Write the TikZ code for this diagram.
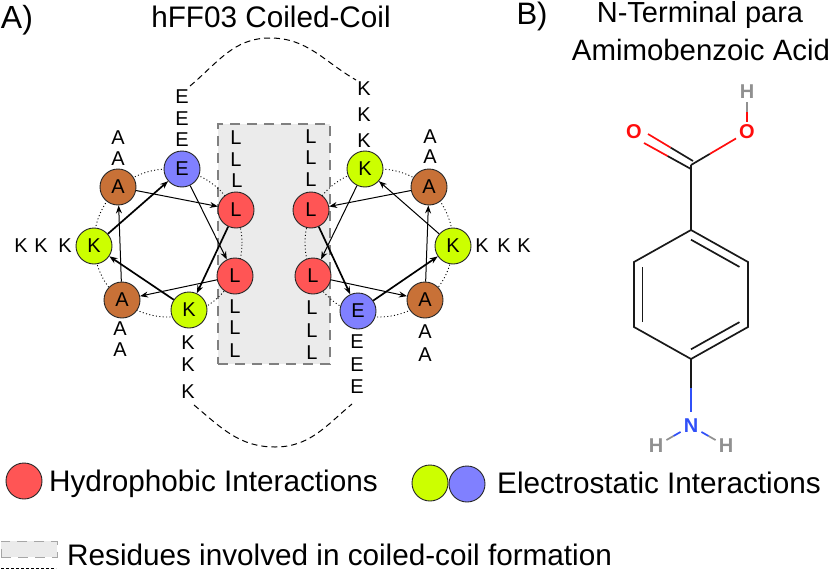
\documentclass[tikz,border=0pt]{standalone}
\usepackage{fontspec}
\setmainfont{Liberation Sans}
\usetikzlibrary{
    arrows.meta,% for the small heads
    calc%
}
\definecolor{hydro}{HTML}{FF5555}
\definecolor{posres}{HTML}{CCFF00}
\definecolor{negres}{HTML}{8080FF}
\definecolor{alares}{HTML}{C87137}
\definecolor{oxy}{HTML}{FF0D0D}
\definecolor{nitro}{HTML}{3050F8}
\definecolor{hydrogen}{HTML}{909090}
\tikzset{
    residue/.style={circle,draw=black!85,line width=0.9pt,minimum size=36pt,inner sep=0pt,
        font=\fontsize{20}{20}\selectfont},
    letter/.style={inner sep=0pt,font=\fontsize{20}{20}\selectfont},
    bigtext/.style={inner sep=0pt,font=\fontsize{29.7}{29.7}\selectfont},
    atom/.style={inner sep=3pt,font=\fontsize{20}{20}\selectfont\bfseries},
    hop/.style={-{Stealth[length=8pt,width=6pt]},line width=1pt,black},
    hopthick/.style={hop,line width=1.7pt},
    wheel/.style={dotted,line width=0.9pt,dash pattern=on 1pt off 2.4pt},
    link/.style={dash pattern=on 6pt off 4pt,line width=1pt},
    corebox/.style={draw=black!50,fill=black!8,line width=1.8pt,dash pattern=on 10pt off 7pt,inner sep=0pt},
    bond/.style={line width=1.7pt,black!90}
}
\begin{document}
\begin{tikzpicture}[x=1pt,y=-1pt]
    \useasboundingbox (0,0) rectangle (830,570);

    \node[corebox,minimum width=112pt,minimum height=240pt] (core) at (274,244) {};

    \node[bigtext,font=\fontsize{32}{32}\selectfont] (tagA) at (17,20) {A)};
    \node[bigtext,font=\fontsize{31}{31}\selectfont] (tagB) at (532,16) {B)};
    \node[bigtext] (title) at (271,17) {hFF03 Coiled-Coil};
    \node[bigtext,font=\fontsize{29}{29}\selectfont] (pabaone) at (700,15) {N-Terminal para};
    \node[bigtext,font=\fontsize{29.4}{29.4}\selectfont] (pabatwo) at (701,50) {Amimobenzoic Acid};

    %%% the two dotted wheels
    \node[circle,draw,wheel,minimum size=148pt,inner sep=0pt] (wheelL) at (168,243) {};
    \node[circle,draw,wheel,minimum size=148pt,inner sep=0pt] (wheelR) at (379,243) {};

    %%% left helix
    \node[residue,fill=alares] (lAa) at (118,187) {A};
    \node[residue,fill=negres] (lE) at (182,169) {E};
    \node[residue,fill=hydro] (lLa) at (236,210) {L};
    \node[residue,fill=hydro] (lLb) at (235,276) {L};
    \node[residue,fill=posres] (lKb) at (189,310) {K};
    \node[residue,fill=alares] (lAb) at (122,300) {A};
    \node[residue,fill=posres] (lKa) at (94,246) {K};

    %%% right helix
    \node[residue,fill=posres] (rKa) at (365,169) {K};
    \node[residue,fill=alares] (rAa) at (429,187) {A};
    \node[residue,fill=posres] (rKb) at (453,246) {K};
    \node[residue,fill=alares] (rAb) at (425,300) {A};
    \node[residue,fill=negres] (rE) at (358,311) {E};
    \node[residue,fill=hydro] (rLb) at (313,276) {L};
    \node[residue,fill=hydro] (rLa) at (311,210) {L};

    %%% heptad order, left
    \draw[hopthick] (lKa) -- (lE);
    \draw[hop] (lE) -- (lLb);
    \draw[hop] (lLb) -- (lAb);
    \draw[hop] (lAb) -- (lAa);
    \draw[hop] (lAa) -- (lLa);
    \draw[hopthick] (lLa) -- (lKb);
    \draw[hopthick] (lKb) -- (lKa);

    %%% heptad order, right
    \draw[hopthick] (rE) -- (rKb);
    \draw[hop] (rKb) -- (rKa);
    \draw[hop] (rKa) -- (rLb);
    \draw[hop] (rLb) -- (rAb);
    \draw[hop] (rAb) -- (rAa);
    \draw[hop] (rAa) -- (rLa);
    \draw[hopthick] (rLa) -- (rE);

    %%% repeated letters round the wheels
    \foreach \name/\x/\y/\txt in {
        ea/182/97/E, eb/182/119/E, ec/182/140/E,
        aa/118/138/A, ab/118/159/A,
        la/236/138/L, lb/236/160/L, lc/237/181/L,
        ld/235/307/L, le/235/328/L, lf/235/351/L,
        ka/21/246/K, kb/41/246/K, kc/65/246/K,
        kd/188/343/K, ke/188/365/K, kf/188/392/K,
        ac/120/329/A, ad/120/350/A,
        kg/364/89/K, kh/364/115/K, ki/364/141/K,
        ae/430/137/A, af/430/157/A,
        lg/311/137/L, lh/311/158/L, li/311/180/L,
        lj/312/308/L, lk/312/331/L, ll/312/353/L,
        kj/482/246/K, kk/504/246/K, kl/524/246/K,
        ee/357/342/E, ef/357/365/E, eg/357/387/E,
        ag/425/332/A, ah/425/355/A}
        \node[letter] (\name) at (\x,\y) {\txt};

    %%% dashed links between the helices
    \coordinate (topL) at (190,86);
    \coordinate (topM) at (270,38);
    \coordinate (topR) at (356,80);
    \coordinate (lowL) at (194,405);
    \coordinate (lowM) at (275,447);
    \coordinate (lowR) at (352,404);
    \draw[link] (topL) to [out=40,in=180] (topM) to [out=0,in=150] (topR);
    \draw[link] (lowL) to [out=-40,in=180] (lowM) to [out=0,in=-140] (lowR);

    %%% legend
    \node[residue,fill=hydro] (keyH) at (24,481) {};
    \node[bigtext,anchor=west] (keyHtext) at (49,484) {Hydrophobic Interactions};
    \node[residue,fill=posres] (keyK) at (430,483) {};
    \node[residue,fill=negres] (keyE) at (467,484) {};
    \node[bigtext,anchor=west] (keyEtext) at (497,483) {Electrostatic Interactions};
    \node[corebox,minimum width=56pt,minimum height=16pt,line width=1pt,draw=black!35] (keyBox) at (29,549) {};
    \node[bigtext,anchor=west] (keyBoxtext) at (67,554.5) {Residues involved in coiled-coil formation};
    \coordinate (keyDashL) at (1,568);
    \coordinate (keyDashR) at (56,568);
    \draw[line width=1pt,dash pattern=on 3pt off 2pt] (keyDashL) -- (keyDashR);

    %%% molecule
    \coordinate (ringa) at (691,230);
    \coordinate (ringb) at (748,262);
    \coordinate (ringc) at (748,327);
    \coordinate (ringd) at (691,359);
    \coordinate (ringe) at (634,327);
    \coordinate (ringf) at (634,262);
    \coordinate (ringm) at (691,294.5);
    \coordinate (carb) at (691,165);
    \node[atom,text=oxy] (odbl) at (634,132) {O};
    \node[atom,text=oxy] (ohyd) at (747,132) {O};
    \node[atom,text=hydrogen] (hoxy) at (747,92) {H};
    \node[atom,text=nitro] (nitr) at (691,426) {N};
    \node[atom,text=hydrogen] (hnl) at (656,446) {H};
    \node[atom,text=hydrogen] (hnr) at (726,446) {H};

    \draw[bond,line cap=round] (ringa) -- (ringb) -- (ringc) -- (ringd) -- (ringe) -- (ringf) -- cycle;
    \draw[bond] ($(ringa)!.15!(ringm)$) -- ($(ringb)!.15!(ringm)$);
    \draw[bond] ($(ringc)!.15!(ringm)$) -- ($(ringd)!.15!(ringm)$);
    \draw[bond] ($(ringe)!.15!(ringm)$) -- ($(ringf)!.15!(ringm)$);
    \draw[bond] (ringa) -- (carb);

    \coordinate (carbup) at (693,161); %%% C=O upper
    \coordinate (carbdn) at (691,169); %%% C=O lower
    \coordinate (oup) at (648,134);
    \coordinate (odn) at (644,143);
    \draw[bond] (carbup) -- ($(carbup)!.5!(oup)$);
    \draw[bond,oxy] ($(carbup)!.5!(oup)$) -- (oup);
    \draw[bond] (carbdn) -- ($(carbdn)!.5!(odn)$);
    \draw[bond,oxy] ($(carbdn)!.5!(odn)$) -- (odn);

    \path (carb) -- (ohyd) coordinate[pos=.42] (midco);
    \draw[bond] (carb) -- (midco);
    \draw[bond,oxy] (midco) -- (ohyd);
    \coordinate (midho) at (747,112);
    \draw[bond,hydrogen] (hoxy) -- (midho);
    \draw[bond,oxy] (midho) -- (ohyd);

    \coordinate (midcn) at (691,388);
    \draw[bond] (ringd) -- (midcn);
    \draw[bond,nitro,shorten >=4pt] (midcn) -- (nitr);
    \coordinate (midnl) at ($(nitr)!.5!(hnl)$);
    \coordinate (midnr) at ($(nitr)!.5!(hnr)$);
    \draw[bond,nitro] (nitr) -- (midnl);
    \draw[bond,hydrogen] (midnl) -- (hnl);
    \draw[bond,nitro] (nitr) -- (midnr);
    \draw[bond,hydrogen] (midnr) -- (hnr);
\end{tikzpicture}
\end{document}
